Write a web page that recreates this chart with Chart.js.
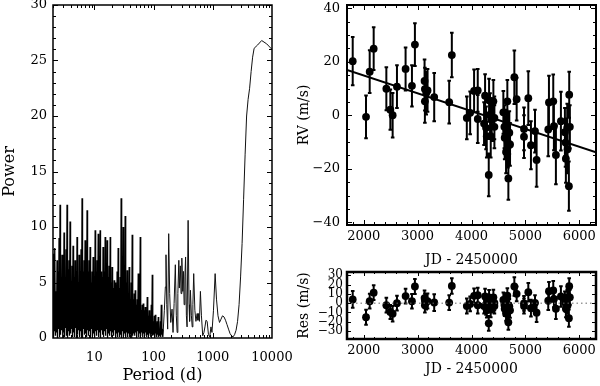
<!DOCTYPE html>
<html>
<head>
<meta charset="utf-8">
<script src="https://cdn.jsdelivr.net/npm/chart.js@4.4.1/dist/chart.umd.min.js"></script>
<style>
  html, body { margin: 0; padding: 0; background: #fff; }
  #wrap { position: relative; width: 600px; height: 386px; overflow: hidden; }
  canvas { position: absolute; }
  #pg { left: 0; top: 0; }
  #rvc { left: 296px; top: 0; }
  #resc { left: 296px; top: 262px; }
</style>
</head>
<body>
<div id="wrap">
  <canvas id="pg" width="300" height="386"></canvas>
  <canvas id="rvc" width="304" height="270"></canvas>
  <canvas id="resc" width="304" height="124"></canvas>
</div>
<script>
// periodogram (period in days, power)
const periodDays = [
  2.00, 2.04, 2.08, 2.12, 2.16, 2.20, 2.25, 2.29, 2.34, 2.38,
  2.43, 2.48, 2.53, 2.58, 2.63, 2.68, 2.73, 2.78, 2.84, 2.90,
  2.95, 3.01, 3.07, 3.13, 3.19, 3.25, 3.32, 3.38, 3.45, 3.52,
  3.59, 3.66, 3.73, 3.80, 3.88, 3.96, 4.03, 4.11, 4.19, 4.27,
  4.36, 4.45, 4.53, 4.62, 4.71, 4.80, 4.90, 5.00, 5.09, 5.19,
  5.30, 5.40, 5.51, 5.62, 5.73, 5.84, 5.95, 6.07, 6.19, 6.31,
  6.44, 6.57, 6.69, 6.82, 6.96, 7.10, 7.24, 7.38, 7.52, 7.67,
  7.82, 7.97, 8.13, 8.29, 8.46, 8.63, 8.79, 8.96, 9.14, 9.32,
  9.51, 9.70, 9.88, 10.1, 10.3, 10.5, 10.7, 10.9, 11.1, 11.3,
  11.6, 11.8, 12.0, 12.2, 12.5, 12.7, 13.0, 13.2, 13.5, 13.8,
  14.0, 14.3, 14.6, 14.9, 15.2, 15.5, 15.8, 16.1, 16.4, 16.7,
  17.1, 17.4, 17.7, 18.1, 18.5, 18.8, 19.2, 19.6, 19.9, 20.3,
  20.7, 21.1, 21.6, 22.0, 22.4, 22.9, 23.3, 23.8, 24.2, 24.7,
  25.2, 25.7, 26.2, 26.7, 27.3, 27.8, 28.3, 28.9, 29.5, 30.0,
  30.6, 31.2, 31.9, 32.5, 33.1, 33.8, 34.4, 35.1, 35.8, 36.5,
  37.2, 38.0, 38.7, 39.5, 40.3, 41.0, 41.9, 42.7, 43.5, 44.4,
  45.3, 46.1, 47.1, 48.0, 48.9, 49.9, 50.9, 51.9, 52.9, 53.9,
  55.0, 56.1, 57.2, 58.3, 59.5, 60.6, 61.8, 63.0, 64.3, 65.6,
  66.9, 68.2, 69.5, 70.9, 72.3, 73.7, 75.2, 76.6, 78.1, 79.7,
  81.3, 82.8, 84.5, 86.1, 87.8, 89.6, 91.3, 93.1, 95.0, 96.8,
  98.8, 101, 103, 105, 107, 109, 111, 113, 115, 118,
  120, 122, 125, 127, 130, 132, 135, 138, 140, 143,
  146, 152, 158, 162, 167, 173, 180, 187, 195, 205,
  213, 222, 233, 242, 250, 257, 267, 272, 283, 291,
  300, 311, 319, 328, 338, 347, 358, 368, 383, 397,
  406, 419, 435, 449, 461, 476, 498, 519, 544, 561,
  578, 595, 618, 643, 676, 709, 737, 766, 803, 845,
  888, 931, 968, 1027, 1095, 1155, 1224, 1298, 1376, 1459,
  1547, 1641, 1740, 1844, 1955, 2074, 2198, 2331, 2472, 2621,
  2779, 2947, 3124, 3313, 3512, 3724, 3948, 4187, 4439, 4707,
  4991, 5722, 6689, 8130, 10000
];
const periodPower = [
  7.6, 0.1, 5.0, 0.6, 8.1, 0.2, 4.2, 0.5, 7.0, 0.0,
  6.0, 0.8, 9.0, 0.1, 12.0, 0.3, 5.2, 0.7, 7.5, 0.0,
  6.1, 0.5, 9.5, 0.1, 5.0, 0.9, 8.0, 0.2, 12.0, 0.0,
  6.2, 0.6, 7.0, 0.2, 10.5, 0.4, 5.1, 0.8, 6.5, 0.1,
  8.3, 0.5, 5.5, 0.1, 7.0, 0.9, 6.0, 0.0, 9.1, 0.3,
  5.0, 0.7, 7.5, 0.1, 6.0, 0.6, 8.0, 0.2, 12.6, 0.0,
  6.0, 0.8, 7.0, 0.3, 8.8, 0.4, 5.5, 0.1, 11.5, 0.7,
  6.0, 0.2, 7.0, 0.6, 8.2, 0.0, 5.0, 0.8, 6.0, 0.2,
  7.3, 0.4, 5.5, 0.1, 9.7, 0.6, 6.0, 0.2, 7.0, 0.7,
  9.4, 0.1, 5.0, 0.5, 9.7, 0.0, 6.0, 0.7, 5.5, 0.3,
  8.2, 0.1, 6.0, 0.6, 9.1, 0.2, 5.0, 0.8, 8.8, 0.0,
  5.5, 0.4, 6.5, 0.2, 9.1, 0.6, 5.0, 0.1, 6.4, 0.5,
  4.5, 0.2, 5.2, 0.7, 5.0, 0.0, 4.0, 0.4, 6.0, 0.1,
  8.1, 0.5, 4.5, 0.1, 5.5, 0.3, 12.6, 0.0, 5.0, 0.6,
  10.0, 0.2, 6.0, 0.4, 11.0, 0.0, 5.0, 0.5, 6.1, 0.1,
  4.0, 0.4, 6.4, 0.1, 3.5, 0.3, 5.0, 0.0, 9.3, 0.2,
  3.5, 0.4, 4.0, 0.2, 4.3, 0.5, 3.0, 0.1, 3.5, 0.6,
  5.8, 0.1, 3.0, 0.4, 9.1, 0.2, 2.5, 0.5, 3.0, 0.1,
  3.1, 0.4, 2.5, 0.2, 2.8, 0.5, 2.0, 0.1, 3.7, 0.3,
  2.0, 0.2, 2.5, 0.4, 2.0, 0.1, 3.0, 0.3, 5.7, 0.2,
  1.5, 0.3, 2.0, 0.1, 2.1, 0.4, 1.0, 0.1, 1.5, 0.3,
  1.9, 0.1, 0.8, 0.2, 1.5, 0.1, 3.0, 0.3, 0.6, 0.1,
  0.8, 2.5, 4.6, 7.5, 3.0, 0.8, 9.4, 4.0, 1.4, 2.6,
  0.5, 3.1, 6.6, 2.0, 0.5, 4.0, 7.0, 4.5, 6.5, 4.0,
  7.2, 4.2, 6.0, 3.0, 5.5, 7.3, 2.0, 1.0, 10.6, 3.0,
  1.5, 4.3, 2.0, 1.0, 3.0, 5.8, 2.5, 1.5, 2.2, 1.6,
  2.2, 1.5, 4.2, 2.0, 0.2, 0.5, 1.0, 1.6, 1.5, 0.3,
  0.1, 1.0, 0.5, 2.5, 5.8, 3.5, 2.0, 1.4, 1.7, 2.0,
  1.9, 1.6, 1.2, 0.8, 0.4, 0.2, 0.1, 0.3, 0.7, 1.5,
  3.0, 5.5, 8.5, 12.5, 16.5, 20.0, 21.5, 22.5, 24.0, 25.3,
  26.1, 26.4, 26.8, 26.5, 26.0
];
const denseCount = 221; // the short-period forest ends here, the rest is the smooth long-period part
const periodTicks = [10, 100, 1000, 10000];
const powerTicks = [0, 5, 10, 15, 20, 25, 30];

// radial velocities (JD - 2450000, m/s)
const jd = [1796, 2043, 2111, 2185, 2420, 2494, 2537, 2617, 2777, 2895,
  2950, 3129, 3135, 3135, 3160, 3185, 3308, 3586, 3635, 3913,
  3975, 4048, 4116, 4116, 4252, 4233, 4270, 4283, 4326, 4320,
  4344, 4357, 4375, 4406, 4425, 4425, 4591, 4610, 4616, 4641,
  4653, 4665, 4671, 4678, 4684, 4702, 4715, 4795, 4838, 4974,
  4974, 5054, 5103, 5178, 5208, 5424, 5437, 5517, 5529, 5566,
  5659, 5733, 5745, 5751, 5776, 5782, 5807, 5813, 5825];
const rv = [20.2, -0.6, 16.3, 24.9, 9.9, 2.1, 0.0, 10.7, 17.3, 11.0,
  26.4, 12.8, 9.8, 5.2, 8.3, 9.3, 6.8, 4.9, 22.5, -1.0,
  0.9, 9.1, 9.3, -1.4, 7.3, -3.1, -4.7, -7.8, 5.6, -22.3,
  0.2, -7.8, -1.6, 5.2, -1.0, -4.3, 1.1, -4.3, -8.4, -13.7,
  -5.9, 5.2, -10.0, -11.5, -23.6, -6.5, -10.9, 14.2, 6.0, -5.1,
  -8.0, 6.4, -11.2, -5.9, -16.7, -5.3, 4.8, 5.2, -4.1, -14.8,
  -2.2, -6.3, -10.2, -16.2, -4.7, -12.7, -26.5, 7.7, -4.3];
const rvErr = [9, 8, 8, 8, 8, 7.5, 8.3, 8, 8, 7.7,
  8, 8, 8, 8, 8, 8, 9, 8, 8.3, 8,
  8, 8, 8, 9, 8, 8, 8, 8, 8, 8,
  8, 8, 8, 8, 8, 8, 8, 8, 8, 8,
  8, 8, 8, 8, 8, 8, 8, 10, 8, 8,
  8, 10, 9, 8, 10, 10, 10, 10, 9, 11,
  11, 9, 9, 9, 9, 9, 9.2, 8.6, 8];
const residual = [4.0, -15.1, 2.2, 11.3, -2.1, -9.4, -11.3, 0.0, 7.6, 2.1,
  17.9, 5.5, 2.5, -2.1, 1.2, 2.3, 0.7, 0.6, 18.5, -3.1,
  -0.8, 7.9, 8.5, -2.2, 7.4, -3.1, -4.5, -7.5, 6.2, -21.7,
  0.9, -7.0, -0.7, 6.3, 0.3, -3.0, 3.5, -1.8, -5.9, -11.0,
  -3.1, 8.1, -7.1, -8.6, -20.6, -3.4, -7.7, 17.9, 10.0, -0.2,
  -3.1, 11.8, -5.4, 0.4, -10.2, 2.6, 12.8, 13.7, 4.5, -6.0,
  7.2, 3.6, -0.2, -6.1, 5.5, -2.4, -16.1, 18.2, 6.3];
const trendJd = [1690, 6310];
const trendRv = [16.9, -13.8];
const jdTicks = [2000, 3000, 4000, 5000, 6000];
const rvTicks = [-40, -20, 0, 20, 40];
const resTicks = [-30, -20, -10, 0, 10, 20, 30];

Chart.defaults.font.family = "'DejaVu Serif', serif";
Chart.defaults.color = '#000';

// minor tick positions
const logMinor = [];
[1, 10, 100, 1000].forEach(d => { for (let k = 2; k <= 9; k++) logMinor.push(k * d); });
const stepList = (a, b, s) => { const out = []; for (let v = a; v <= b; v += s) out.push(v); return out; };

const minus = v => String(v).replace('-', '\u2212');

// draws the box and the IDL style inward ticks on all four sides
const frameTicks = {
  id: 'frameTicks',
  afterDraw(chart, args, o) {
    const { ctx, chartArea: a, scales: { x, y } } = chart;
    ctx.save();
    ctx.strokeStyle = '#000';
    ctx.lineWidth = 1;
    ctx.beginPath();
    const vTick = (v, len) => {
      const px = Math.round(x.getPixelForValue(v)) + 0.5;
      if (px < a.left || px > a.right) return;
      ctx.moveTo(px, a.bottom); ctx.lineTo(px, a.bottom - len);
      ctx.moveTo(px, a.top); ctx.lineTo(px, a.top + len);
    };
    const hTick = (v, len) => {
      const py = Math.round(y.getPixelForValue(v)) + 0.5;
      if (py < a.top || py > a.bottom) return;
      ctx.moveTo(a.left, py); ctx.lineTo(a.left + len, py);
      ctx.moveTo(a.right, py); ctx.lineTo(a.right - len, py);
    };
    o.xMajor.forEach(v => vTick(v, o.major));
    o.xMinor.forEach(v => vTick(v, o.minor));
    o.yMajor.forEach(v => hTick(v, o.major));
    o.yMinor.forEach(v => hTick(v, o.minor));
    ctx.stroke();
    ctx.lineWidth = o.frame;
    ctx.strokeRect(a.left, a.top, a.right - a.left, a.bottom - a.top);
    ctx.restore();
  }
};

// vertical error bars with small caps
const errorBars = {
  id: 'errorBars',
  beforeDatasetsDraw(chart, args, o) {
    const { ctx, chartArea: a, scales: { x, y } } = chart;
    ctx.save();
    ctx.beginPath();
    ctx.rect(a.left, a.top, a.right - a.left, a.bottom - a.top);
    ctx.clip();
    ctx.strokeStyle = '#000';
    ctx.lineWidth = 2;
    ctx.beginPath();
    o.xs.forEach((xv, i) => {
      const px = x.getPixelForValue(xv);
      const hi = y.getPixelForValue(o.ys[i] + o.err[i]);
      const lo = y.getPixelForValue(o.ys[i] - o.err[i]);
      ctx.moveTo(px, hi); ctx.lineTo(px, lo);
      ctx.moveTo(px - 1.8, hi); ctx.lineTo(px + 1.8, hi);
      ctx.moveTo(px - 1.8, lo); ctx.lineTo(px + 1.8, lo);
    });
    ctx.stroke();
    ctx.restore();
  }
};

function axis(o) {
  return {
    type: o.type || 'linear',
    min: o.min,
    max: o.max,
    grid: { display: false, drawTicks: false },
    border: { display: false },
    afterBuildTicks: s => { s.ticks = o.ticks.map(v => ({ value: v })); },
    afterFit: s => {
      if (s.isHorizontal()) { s.height = o.size; s.paddingLeft = 0; s.paddingRight = 0; }
      else { s.width = o.size; s.paddingTop = 0; s.paddingBottom = 0; }
    },
    ticks: {
      autoSkip: false, maxRotation: 0, padding: o.pad,
      font: { size: o.fontSize || 13 }, color: '#000',
      callback: v => minus(v)
    },
    title: { display: true, text: o.title, font: { size: o.titleSize || 14 }, color: '#000', padding: o.titlePad }
  };
}

const baseOptions = (layoutPad) => ({
  responsive: false,
  animation: false,
  devicePixelRatio: 1,
  layout: { padding: layoutPad },
  events: []
});

const pgPoints = periodDays.map((p, i) => ({ x: p, y: periodPower[i] }));

// left: periodogram
new Chart(document.getElementById('pg'), {
  type: 'line',
  data: {
    datasets: [
      {
        data: pgPoints.slice(0, denseCount),
        borderColor: '#000',
        borderWidth: 1.3,
        pointRadius: 0,
        tension: 0
      },
      {
        data: pgPoints.slice(denseCount - 1),
        borderColor: '#111',
        borderWidth: 1,
        pointRadius: 0,
        tension: 0
      }
    ]
  },
  options: Object.assign(baseOptions({ top: 5, right: 28, left: 0, bottom: 0 }), {
    scales: {
      x: axis({ type: 'logarithmic', min: 2, max: 10000, ticks: periodTicks, size: 48, pad: 11.7,
        title: 'Period (d)', titleSize: 16, titlePad: { top: 0, bottom: 0.9 } }),
      y: axis({ min: 0, max: 30, ticks: powerTicks, size: 53, pad: 6,
        title: 'Power', titleSize: 16, titlePad: { top: 0, bottom: 0 } })
    },
    plugins: {
      legend: { display: false },
      tooltip: { enabled: false },
      frameTicks: { xMajor: periodTicks, xMinor: logMinor, yMajor: powerTicks,
        yMinor: stepList(0, 30, 1), major: 5, minor: 3, frame: 1.5 }
    }
  }),
  plugins: [frameTicks]
});

// right top: RV with linear trend
new Chart(document.getElementById('rvc'), {
  type: 'line',
  data: {
    datasets: [
      {
        data: jd.map((t, i) => ({ x: t, y: rv[i] })),
        showLine: false,
        pointRadius: 3.9,
        pointBackgroundColor: '#000',
        pointBorderWidth: 0
      },
      {
        data: trendJd.map((t, i) => ({ x: t, y: trendRv[i] })),
        borderColor: '#000',
        borderWidth: 2,
        pointRadius: 0
      }
    ]
  },
  options: Object.assign(baseOptions({ top: 5, right: 4, left: 0, bottom: 0 }), {
    scales: {
      x: axis({ min: 1690, max: 6310, ticks: jdTicks, size: 45, pad: 4,
        title: 'JD - 2450000', titlePad: { top: 0, bottom: 1.6 } }),
      y: axis({ min: -41, max: 41.2, ticks: rvTicks, size: 51, pad: 7,
        title: 'RV (m/s)', titlePad: { top: 0, bottom: 0 } })
    },
    plugins: {
      legend: { display: false },
      tooltip: { enabled: false },
      errorBars: { xs: jd, ys: rv, err: rvErr },
      frameTicks: { xMajor: jdTicks, xMinor: stepList(1800, 6200, 200), yMajor: rvTicks,
        yMinor: stepList(-40, 40, 5), major: 5, minor: 3, frame: 2 }
    }
  }),
  plugins: [errorBars, frameTicks]
});

// right bottom: residuals
new Chart(document.getElementById('resc'), {
  type: 'line',
  data: {
    datasets: [
      {
        data: trendJd.map(t => ({ x: t, y: 0 })),
        borderColor: '#666',
        borderWidth: 1,
        borderDash: [1.5, 3],
        pointRadius: 0
      },
      {
        data: jd.map((t, i) => ({ x: t, y: residual[i] })),
        showLine: false,
        pointRadius: 3.9,
        pointBackgroundColor: '#000',
        pointBorderWidth: 0
      }
    ]
  },
  options: Object.assign(baseOptions({ top: 10, right: 4, left: 0, bottom: 0 }), {
    scales: {
      x: axis({ min: 1690, max: 6310, ticks: jdTicks, size: 47, pad: 4,
        title: 'JD - 2450000', titlePad: { top: 0, bottom: 8 } }),
      y: axis({ min: -38.5, max: 33.5, ticks: resTicks, size: 51, pad: 4, fontSize: 12,
        title: 'Res (m/s)', titlePad: { top: 0, bottom: 0 } })
    },
    plugins: {
      legend: { display: false },
      tooltip: { enabled: false },
      errorBars: { xs: jd, ys: residual, err: rvErr },
      frameTicks: { xMajor: jdTicks, xMinor: stepList(1800, 6200, 200), yMajor: resTicks,
        yMinor: [], major: 4, minor: 2, frame: 2.5 }
    }
  }),
  plugins: [errorBars, frameTicks]
});
</script>
</body>
</html>
